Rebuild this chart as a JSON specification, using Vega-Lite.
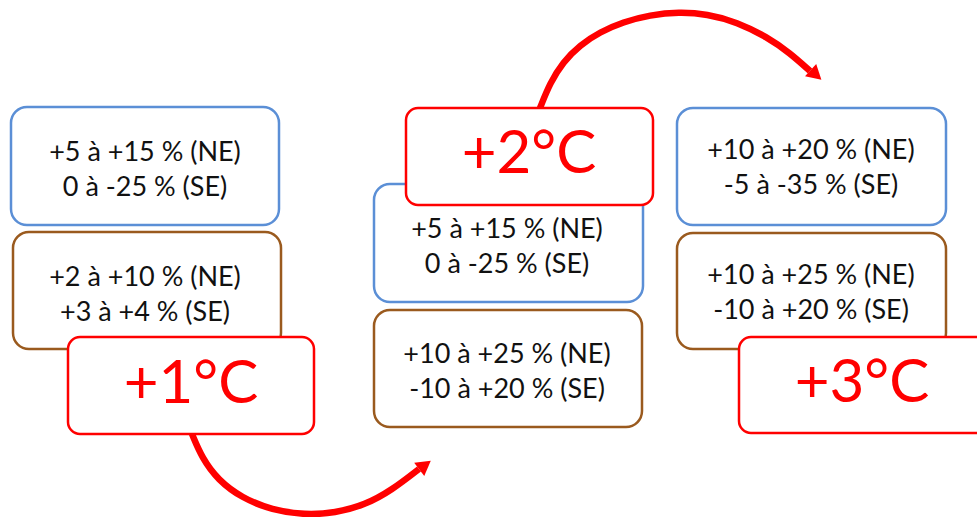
{
  "$schema": "https://vega.github.io/schema/vega-lite/v6.json",
  "width": 977,
  "height": 517,
  "padding": 0,
  "autosize": {"type": "none"},
  "background": "white",
  "config": {"view": {"stroke": null}},
  "datasets": {
    "boxes": [
      {"kind": "blue", "x1": 11, "x2": 279, "y1": 107, "y2": 225, "tx": 145, "ty": 153, "label": "+5 à +15 % (NE)\n0 à -25 % (SE)"},
      {"kind": "brown", "x1": 13, "x2": 281, "y1": 232, "y2": 349, "tx": 145, "ty": 278, "label": "+2 à +10 % (NE)\n+3 à +4 % (SE)"},
      {"kind": "blue", "x1": 374, "x2": 643, "y1": 184, "y2": 302, "tx": 507, "ty": 230, "label": "+5 à +15 % (NE)\n0 à -25 % (SE)"},
      {"kind": "brown", "x1": 374, "x2": 642, "y1": 310, "y2": 427, "tx": 507, "ty": 355, "label": "+10 à +25 % (NE)\n-10 à +20 % (SE)"},
      {"kind": "blue", "x1": 677, "x2": 946, "y1": 108, "y2": 225, "tx": 811, "ty": 151, "label": "+10 à +20 % (NE)\n-5 à -35 % (SE)"},
      {"kind": "brown", "x1": 677, "x2": 946, "y1": 233, "y2": 349, "tx": 811, "ty": 276, "label": "+10 à +25 % (NE)\n-10 à +20 % (SE)"}
    ],
    "temps": [
      {"kind": "red", "x1": 68, "x2": 314, "y1": 337, "y2": 434, "tx": 191, "ty": 385, "label": "+1°C"},
      {"kind": "red", "x1": 406, "x2": 653, "y1": 108, "y2": 205, "tx": 529, "ty": 155, "label": "+2°C"},
      {"kind": "red", "x1": 739, "x2": 990, "y1": 337, "y2": 433, "tx": 862, "ty": 384, "label": "+3°C"}
    ],
    "arcs": [
      {"arc": "a", "i": 0, "x": 192, "y": 434},
      {"arc": "a", "i": 1, "x": 202, "y": 458},
      {"arc": "a", "i": 2, "x": 218, "y": 480},
      {"arc": "a", "i": 3, "x": 242, "y": 498},
      {"arc": "a", "i": 4, "x": 272, "y": 510},
      {"arc": "a", "i": 5, "x": 305, "y": 515},
      {"arc": "a", "i": 6, "x": 335, "y": 513},
      {"arc": "a", "i": 7, "x": 365, "y": 505},
      {"arc": "a", "i": 8, "x": 392, "y": 490},
      {"arc": "a", "i": 9, "x": 419, "y": 469},
      {"arc": "b", "i": 0, "x": 540, "y": 108},
      {"arc": "b", "i": 1, "x": 550, "y": 83},
      {"arc": "b", "i": 2, "x": 563, "y": 62},
      {"arc": "b", "i": 3, "x": 580, "y": 45},
      {"arc": "b", "i": 4, "x": 600, "y": 32},
      {"arc": "b", "i": 5, "x": 623, "y": 22},
      {"arc": "b", "i": 6, "x": 650, "y": 15},
      {"arc": "b", "i": 7, "x": 679, "y": 12},
      {"arc": "b", "i": 8, "x": 707, "y": 14},
      {"arc": "b", "i": 9, "x": 737, "y": 22},
      {"arc": "b", "i": 10, "x": 767, "y": 37},
      {"arc": "b", "i": 11, "x": 790, "y": 53},
      {"arc": "b", "i": 12, "x": 810, "y": 71}
    ],
    "heads": [
      {"x": 425, "y": 465, "dir": 53},
      {"x": 816, "y": 75, "dir": 132}
    ]
  },
  "layer": [
    {
      "data": {"name": "arcs"},
      "mark": {"type": "line", "interpolate": "basis", "color": "#FF0000", "strokeWidth": 6.5, "strokeCap": "butt"},
      "encoding": {
        "x": {"field": "x", "type": "quantitative", "scale": {"domain": [0, 977], "nice": false, "zero": false}, "axis": null},
        "y": {"field": "y", "type": "quantitative", "scale": {"domain": [0, 517], "nice": false, "zero": false, "reverse": true}, "axis": null},
        "detail": {"field": "arc"},
        "order": {"field": "i", "type": "quantitative"}
      }
    },
    {
      "data": {"name": "heads"},
      "mark": {"type": "point", "shape": "triangle-up", "filled": true, "color": "#FF0000", "size": 280, "opacity": 1},
      "encoding": {
        "x": {"field": "x", "type": "quantitative"},
        "y": {"field": "y", "type": "quantitative"},
        "angle": {"field": "dir", "type": "quantitative", "scale": null}
      }
    },
    {
      "data": {"name": "boxes"},
      "mark": {"type": "rect", "fill": "white", "strokeWidth": 2.5, "cornerRadius": 16},
      "encoding": {
        "x": {"field": "x1", "type": "quantitative"},
        "x2": {"field": "x2"},
        "y": {"field": "y1", "type": "quantitative"},
        "y2": {"field": "y2"},
        "stroke": {"field": "kind", "type": "nominal", "scale": {"domain": ["blue", "brown", "red"], "range": ["#5B8FD6", "#9A5A1E", "#FF0000"]}, "legend": null}
      }
    },
    {
      "data": {"name": "boxes"},
      "mark": {"type": "text", "font": "Lato", "fontSize": 27, "lineBreak": "\n", "lineHeight": 35, "align": "center", "baseline": "middle", "color": "#111111"},
      "encoding": {
        "x": {"field": "tx", "type": "quantitative"},
        "y": {"field": "ty", "type": "quantitative"},
        "text": {"field": "label"}
      }
    },
    {
      "data": {"name": "temps"},
      "mark": {"type": "rect", "fill": "white", "strokeWidth": 2.5, "cornerRadius": 12},
      "encoding": {
        "x": {"field": "x1", "type": "quantitative"},
        "x2": {"field": "x2"},
        "y": {"field": "y1", "type": "quantitative"},
        "y2": {"field": "y2"},
        "stroke": {"field": "kind", "type": "nominal", "scale": {"domain": ["blue", "brown", "red"], "range": ["#5B8FD6", "#9A5A1E", "#FF0000"]}, "legend": null}
      }
    },
    {
      "data": {"name": "temps"},
      "mark": {"type": "text", "font": "Lato", "fontSize": 60, "align": "center", "baseline": "middle", "color": "#FF0000"},
      "encoding": {
        "x": {"field": "tx", "type": "quantitative"},
        "y": {"field": "ty", "type": "quantitative"},
        "text": {"field": "label"}
      }
    }
  ]
}
